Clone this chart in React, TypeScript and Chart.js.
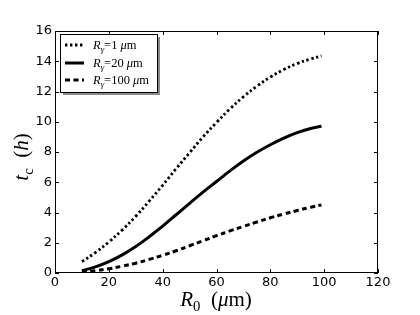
import React, { useEffect, useRef } from "react";
import { Chart, registerables } from "chart.js";
Chart.register(...registerables);

// R0 (µm)
const xValues = [10, 15, 20, 25, 30, 35, 40, 45, 50, 55, 60, 65, 70, 75, 80, 85, 90, 95, 99];
// t_c (h) for R_gamma = 1 µm
const seriesR1 = [0.75, 1.35, 2.05, 2.85, 3.75, 4.75, 5.8, 6.9, 7.95, 9.0, 9.95, 10.85, 11.65, 12.35, 12.95, 13.45, 13.85, 14.15, 14.35];
// t_c (h) for R_gamma = 20 µm
const seriesR20 = [0.15, 0.4, 0.75, 1.2, 1.75, 2.4, 3.1, 3.85, 4.6, 5.35, 6.05, 6.75, 7.4, 7.98, 8.48, 8.92, 9.28, 9.55, 9.7];
// t_c (h) for R_gamma = 100 µm
const seriesR100 = [0.05, 0.15, 0.28, 0.45, 0.65, 0.9, 1.17, 1.47, 1.8, 2.13, 2.47, 2.78, 3.08, 3.37, 3.65, 3.9, 4.13, 4.35, 4.5];
const legendValues = ["1", "20", "100"];
const xTicks = [0, 20, 40, 60, 80, 100, 120];
const yTicks = [0, 2, 4, 6, 8, 10, 12, 14, 16];

const styles = [
  { dash: [2.4, 2.6], width: 2.8 },
  { dash: [] as number[], width: 3 },
  { dash: [5, 3.5], width: 3 },
];

type Seg = { t: string; it?: boolean; sub?: boolean };
const SERIF = '"Liberation Serif", "DejaVu Serif", serif';

function drawRich(ctx: CanvasRenderingContext2D, segs: Seg[], x: number, y: number, size: number, align: "left" | "center") {
  const fontFor = (s: Seg) => `${s.it ? "italic " : ""}${s.sub ? size * 0.7 : size}px ${SERIF}`;
  let w = 0;
  for (const s of segs) {
    ctx.font = fontFor(s);
    w += ctx.measureText(s.t).width;
  }
  let cx = align === "center" ? x - w / 2 : x;
  ctx.textAlign = "left";
  ctx.textBaseline = "alphabetic";
  for (const s of segs) {
    ctx.font = fontFor(s);
    ctx.fillText(s.t, cx, y + (s.sub ? size * 0.22 : 0));
    cx += ctx.measureText(s.t).width;
  }
}

const decorPlugin = {
  id: "decor",
  afterDraw(chart: any) {
    const ctx: CanvasRenderingContext2D = chart.ctx;
    const { left, right, top, bottom } = chart.chartArea;
    const xs = chart.scales.x;
    const ys = chart.scales.y;
    ctx.save();
    ctx.fillStyle = "#000";
    ctx.strokeStyle = "#000";
    ctx.lineWidth = 1;
    ctx.setLineDash([]);
    ctx.strokeRect(left + 0.5, top + 0.5, right - left - 1, bottom - top - 1);
    ctx.beginPath();
    for (const v of xTicks) {
      const px = Math.round(xs.getPixelForValue(v)) + 0.5;
      ctx.moveTo(px, bottom);
      ctx.lineTo(px, bottom - 4);
      ctx.moveTo(px, top);
      ctx.lineTo(px, top + 4);
    }
    for (const v of yTicks) {
      const py = Math.round(ys.getPixelForValue(v)) + 0.5;
      ctx.moveTo(left, py);
      ctx.lineTo(left + 4, py);
      ctx.moveTo(right, py);
      ctx.lineTo(right - 4, py);
    }
    ctx.stroke();

    // legend
    const bx = 60, by = 34, bw = 97, bh = 58;
    ctx.fillStyle = "#8a8a8a";
    ctx.fillRect(bx + 3, by + 3, bw, bh);
    ctx.fillStyle = "#fff";
    ctx.fillRect(bx, by, bw, bh);
    ctx.strokeStyle = "#000";
    ctx.lineWidth = 1;
    ctx.strokeRect(bx + 0.5, by + 0.5, bw, bh);
    const rows = [45, 63, 80];
    legendValues.forEach((val, i) => {
      const ry = rows[i];
      ctx.save();
      ctx.strokeStyle = "#000";
      ctx.lineWidth = styles[i].width;
      ctx.lineCap = "butt";
      ctx.setLineDash(styles[i].dash);
      ctx.beginPath();
      ctx.moveTo(65, ry);
      ctx.lineTo(84, ry);
      ctx.stroke();
      ctx.restore();
      ctx.fillStyle = "#000";
      drawRich(
        ctx,
        [
          { t: "R", it: true },
          { t: "γ", it: true, sub: true },
          { t: "=" + val + " " },
          { t: "μ", it: true },
          { t: "m" },
        ],
        93,
        ry + 4,
        12.5,
        "left"
      );
    });

    // axis titles
    ctx.fillStyle = "#000";
    drawRich(
      ctx,
      [
        { t: "R", it: true },
        { t: "0", sub: true },
        { t: "  (" },
        { t: "μ", it: true },
        { t: "m)" },
      ],
      216,
      306,
      21,
      "center"
    );
    ctx.save();
    ctx.translate(28, 157);
    ctx.rotate(-Math.PI / 2);
    drawRich(
      ctx,
      [
        { t: "t", it: true },
        { t: "c", sub: true },
        { t: "  (" },
        { t: "h", it: true },
        { t: ")" },
      ],
      0,
      0,
      21,
      "center"
    );
    ctx.restore();
    ctx.restore();
  },
};

export default function App() {
  const ref = useRef<HTMLCanvasElement | null>(null);
  useEffect(() => {
    if (!ref.current) return;
    const mk = (vals: number[]) => xValues.map((x, i) => ({ x, y: vals[i] }));
    const all = [seriesR1, seriesR20, seriesR100];
    const chart = new Chart(ref.current, {
      type: "line",
      data: {
        datasets: all.map((vals, i) => ({
          label: "Rγ=" + legendValues[i] + " μm",
          data: mk(vals),
          borderColor: "#000",
          borderWidth: styles[i].width,
          borderDash: styles[i].dash,
          borderCapStyle: "butt",
          pointRadius: 0,
          fill: false,
          tension: 0.4,
        })),
      },
      options: {
        animation: false,
        responsive: false,
        devicePixelRatio: 1,
        layout: { padding: { top: 31, right: 42, left: 0, bottom: 0 } },
        plugins: { legend: { display: false }, tooltip: { enabled: false } },
        scales: {
          x: {
            type: "linear",
            min: 0,
            max: 120,
            grid: { display: false, drawTicks: false },
            border: { display: false },
            afterFit: (s: any) => {
              s.height = 42;
            },
            afterBuildTicks: (s: any) => {
              s.ticks = xTicks.map((v) => ({ value: v }));
            },
            ticks: {
              autoSkip: false,
              maxRotation: 0,
              padding: 2,
              color: "#000",
              font: { family: '"DejaVu Sans", sans-serif', size: 13 },
            },
          },
          y: {
            type: "linear",
            min: 0,
            max: 16,
            grid: { display: false, drawTicks: false },
            border: { display: false },
            afterFit: (s: any) => {
              s.width = 55;
            },
            afterBuildTicks: (s: any) => {
              s.ticks = yTicks.map((v) => ({ value: v }));
            },
            ticks: {
              autoSkip: false,
              padding: 3,
              color: "#000",
              font: { family: '"DejaVu Sans", sans-serif', size: 13 },
            },
          },
        },
      },
      plugins: [decorPlugin],
    } as any);
    return () => chart.destroy();
  }, []);
  return (
    <div style={{ position: "absolute", left: 0, top: 0, width: 420, height: 315, background: "#fff" }}>
      <canvas ref={ref} width={420} height={315} />
    </div>
  );
}
